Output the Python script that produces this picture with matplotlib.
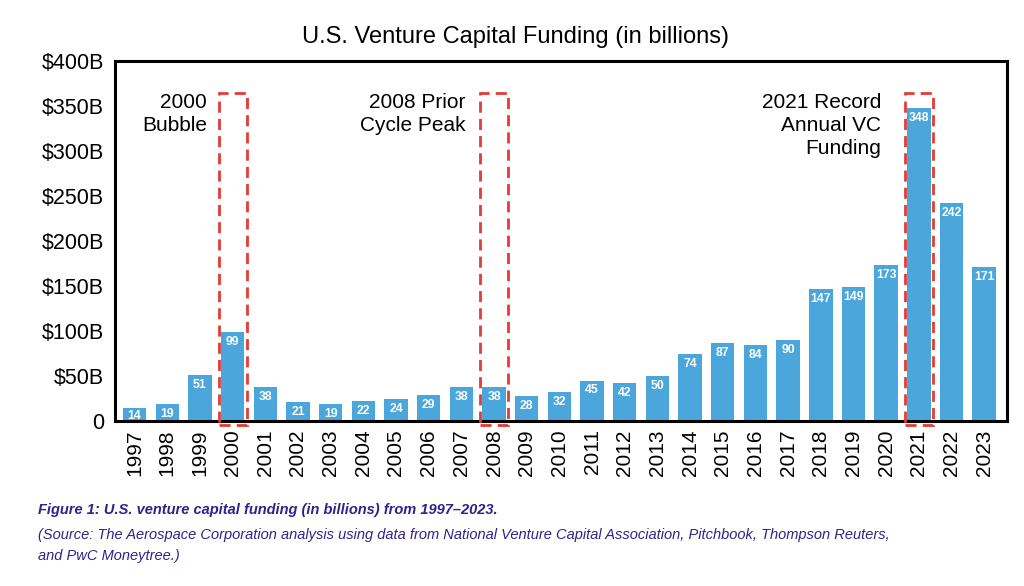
import matplotlib
matplotlib.use("Agg")
import matplotlib.pyplot as plt
from matplotlib.patches import Rectangle

plt.rcParams['font.family'] = ['Liberation Sans', 'DejaVu Sans']

years = [str(y) for y in range(1997, 2024)]
funding = [14, 19, 51, 99, 38, 21, 19, 22, 24, 29, 38, 38, 28, 32, 45, 42, 50,
           74, 87, 84, 90, 147, 149, 173, 348, 242, 171]
yticks = [0, 50, 100, 150, 200, 250, 300, 350, 400]
ytick_labels = ['0', '$50B', '$100B', '$150B', '$200B', '$250B', '$300B', '$350B', '$400B']
highlight_years = ['2000', '2008', '2021']
highlight_texts = ['2000\nBubble', '2008 Prior\nCycle Peak', '2021 Record\nAnnual VC\nFunding']

title = 'U.S. Venture Capital Funding (in billions)'
caption_lines = [
    'Figure 1: U.S. venture capital funding (in billions) from 1997\u20132023.',
    '(Source: The Aerospace Corporation analysis using data from National Venture Capital '
    'Association, Pitchbook, Thompson Reuters,',
    'and PwC Moneytree.)',
]
caption_y = [510, 535, 556]

bar_color = '#4ba6dc'
red = '#e53a35'
cap_color = '#33208f'

fig = plt.figure(figsize=(10.24, 5.86), dpi=100)
ax = fig.add_axes([115/1024, 1 - 421/586, (1007-115)/1024, (421-61)/586])

x = list(range(len(years)))
ax.bar(x, funding, width=0.72, color=bar_color, zorder=2)
for xi, v in zip(x, funding):
    ax.text(xi, max(v - 11, 5.5), str(v), ha='center', va='center', color='white',
            fontsize=8.8, fontweight='bold', zorder=3)

ax.set_xlim(-0.6, len(years) - 0.3)
ax.set_ylim(0, 400)
ax.set_yticks(yticks)
ax.set_yticklabels(ytick_labels, fontsize=15.5)
ax.set_xticks(x)
ax.set_xticklabels(years, rotation=90, fontsize=15)
ax.tick_params(axis='both', length=0, pad=6)
ax.tick_params(axis='y', pad=8)
for s in ax.spines.values():
    s.set_linewidth(2.2)
    s.set_color('black')

text_offsets = [0.78, 0.88, 1.15]
for yr, txt, off in zip(highlight_years, highlight_texts, text_offsets):
    i = years.index(yr)
    rect = Rectangle((i - 0.43, -4.5), 0.86, 368.5, fill=False, edgecolor=red,
                     linewidth=2.0, linestyle=(0, (4, 2.2)), clip_on=False, zorder=4)
    ax.add_patch(rect)
    ax.text(i - off, 365, txt, ha='right', va='top', fontsize=15, linespacing=1.28)

fig.text(516/1024, 1 - 37/586, title, ha='center', va='center', fontsize=17)
for k, (line, yy) in enumerate(zip(caption_lines, caption_y)):
    fig.text(38/1024, 1 - yy/586, line, ha='left', va='center', fontsize=10.5,
             fontweight='bold' if k == 0 else 'normal', fontstyle='italic', color=cap_color)

fig.savefig('out.png', dpi=100, facecolor='white')
